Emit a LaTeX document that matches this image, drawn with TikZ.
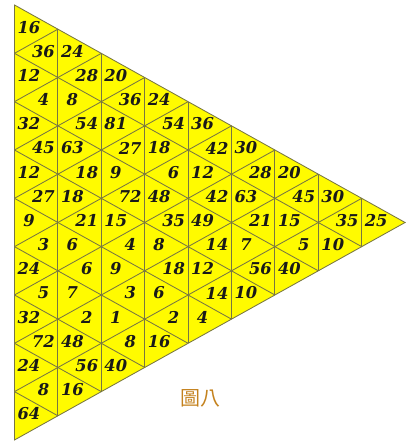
\documentclass[tikz,border=0pt]{standalone}
\usepackage{fontspec}
\setmainfont{DejaVu Serif}
\newfontfamily\cjk{Noto Sans CJK TC}
\definecolor{tri}{RGB}{255,251,0}
\definecolor{gridc}{RGB}{120,118,66}
\definecolor{cap}{RGB}{196,130,30}
\tikzset{
  num/.style={font=\fontsize{16.3}{17}\selectfont\bfseries\itshape, inner sep=0pt, text=black!90},
  gridline/.style={draw=gridc, line width=0.85pt},
  captext/.style={font=\cjk\fontsize{20}{21}\selectfont, text=cap, inner sep=0pt}
}
\def\W{43.4}
\def\h{24.165}
\def\X{14.5}
\def\Y{5}
\newcommand{\putcol}[2]{%
  \foreach \v [count=\i from 0] in {#2} {
    \pgfmathsetmacro\xx{\X+(#1-1)*\W+\W/3*(1+mod(\i,2))}
    \pgfmathsetmacro\yy{\Y+\h*#1+\h*\i-2}
    \node[num] (n#1-\i) at (\xx,\yy) {\v};
  }%
}
\begin{document}
\begin{tikzpicture}[x=1pt,y=-1pt]
\useasboundingbox (0,0) rectangle (411,445);
% vertices
\foreach \k in {0,...,9} {
  \pgfmathtruncatemacro\jmax{9-\k}
  \foreach \j in {0,...,\jmax} {
    \coordinate (v\k-\j) at ({\X+\k*\W},{\Y+\h*\k+2*\h*\j});
  }
}
% outer triangle
\filldraw[fill=tri, gridline] (v0-0) -- (v9-0) -- (v0-9) -- cycle;
% vertical lines
\foreach \k in {1,...,8} {
  \pgfmathtruncatemacro\jm{9-\k}
  \draw[gridline] (v\k-0) -- (v\k-\jm);
}
% down-right lines
\foreach \j in {1,...,8} {
  \pgfmathtruncatemacro\km{9-\j}
  \draw[gridline] (v0-\j) -- (v\km-\j);
}
% up-right lines
\foreach \m in {1,...,8} {
  \draw[gridline] (v0-\m) -- (v\m-0);
}
% numbers
\putcol{1}{16,36,12,4,32,45,12,27,9,3,24,5,32,72,24,8,64}
\putcol{2}{24,28,8,54,63,18,18,21,6,6,7,2,48,56,16}
\putcol{3}{20,36,81,27,9,72,15,4,9,3,1,8,40}
\putcol{4}{24,54,18,6,48,35,8,18,6,2,16}
\putcol{5}{36,42,12,42,49,14,12,14,4}
\putcol{6}{30,28,63,21,7,56,10}
\putcol{7}{20,45,15,5,40}
\putcol{8}{30,35,10}
\putcol{9}{25}
% caption
\node[captext] (cap) at (200,398) {圖八};
\end{tikzpicture}
\end{document}
